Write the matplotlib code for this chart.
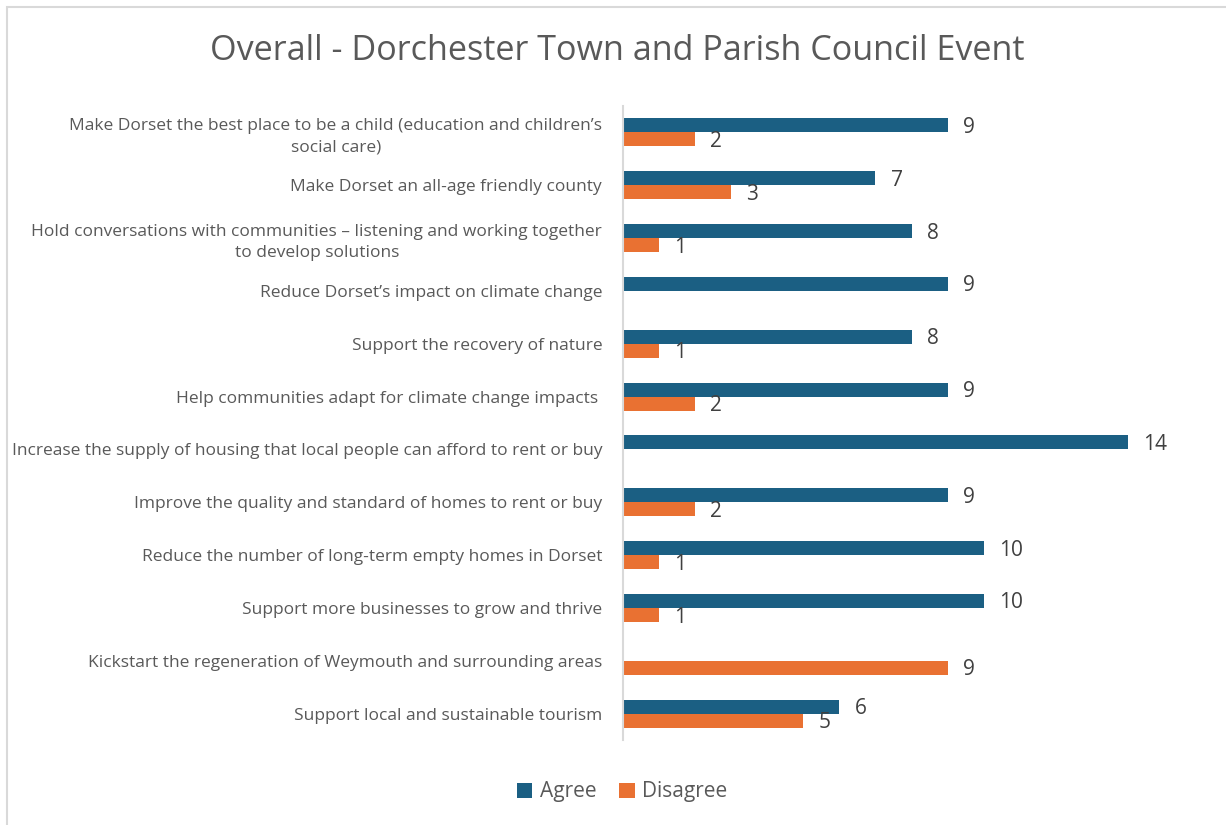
import numpy as np
import matplotlib
matplotlib.use("Agg")
import matplotlib.pyplot as plt
from matplotlib.patches import Rectangle

plt.rcParams['font.family'] = ['Open Sans', 'DejaVu Sans']

categories = [
    "Make Dorset the best place to be a child (education and children\u2019s\nsocial care)",
    "Make Dorset an all-age friendly county",
    "Hold conversations with communities \u2013 listening and working together\nto develop solutions",
    "Reduce Dorset\u2019s impact on climate change",
    "Support the recovery of nature",
    "Help communities adapt for climate change impacts ",
    "Increase the supply of housing that local people can afford to rent or buy",
    "Improve the quality and standard of homes to rent or buy",
    "Reduce the number of long-term empty homes in Dorset",
    "Support more businesses to grow and thrive",
    "Kickstart the regeneration of Weymouth and surrounding areas",
    "Support local and sustainable tourism",
]
agree = [9, 7, 8, 9, 8, 9, 14, 9, 10, 10, np.nan, 6]
disagree = [2, 3, 1, np.nan, 1, 2, np.nan, 2, 1, 1, 9, 5]

blue = "#1b5f83"
orange = "#e97132"
txt = "#595959"

fig = plt.figure(figsize=(12.26, 8.25), dpi=100)
# chart frame
fig.patches.append(Rectangle((7/1226, -0.01), 1.02, 1 - 7/825 + 0.01,
                             transform=fig.transFigure, fill=False,
                             edgecolor="#d9d9d9", linewidth=1.5))

ax = fig.add_axes([623/1226, 1 - 740/825, (1200 - 623)/1226, (740 - 106)/825])
y = np.arange(len(categories))
h = 0.265
ax.barh(y - h/2, agree, height=h, color=blue, label="Agree")
ax.barh(y + h/2, disagree, height=h, color=orange, label="Disagree")

for i in range(len(categories)):
    for val, off in ((agree[i], -h/2), (disagree[i], h/2)):
        if not np.isnan(val):
            ax.annotate(f"{int(val)}", (val, y[i] + off), xytext=(11, -1.5),
                        textcoords="offset points", ha="left", va="center",
                        fontsize=15, color="#404040")

ax.set_xlim(0, 16)
ax.set_ylim(len(categories) - 0.5, -0.5)
ax.set_yticks(y)
ax.set_yticklabels(categories, fontsize=12.5, color=txt, multialignment="center",
                   linespacing=1.4)
ax.tick_params(axis="y", length=0, pad=15)
ax.set_xticks([])
for s in ("top", "right", "bottom"):
    ax.spines[s].set_visible(False)
ax.spines["left"].set_color("#d9d9d9")
ax.spines["left"].set_linewidth(1.5)

fig.text(617/1226, 1 - 51/825, "Overall - Dorchester Town and Parish Council Event",
         ha="center", va="center", fontsize=24.6, color=txt)

fig.legend(loc="center", bbox_to_anchor=(622/1226, 1 - 792/825), ncol=2,
           frameon=False, fontsize=15, labelcolor=txt, handlelength=0.75,
           handleheight=0.75, handletextpad=0.35, columnspacing=1.1)

fig.savefig("out.png", dpi=100)
